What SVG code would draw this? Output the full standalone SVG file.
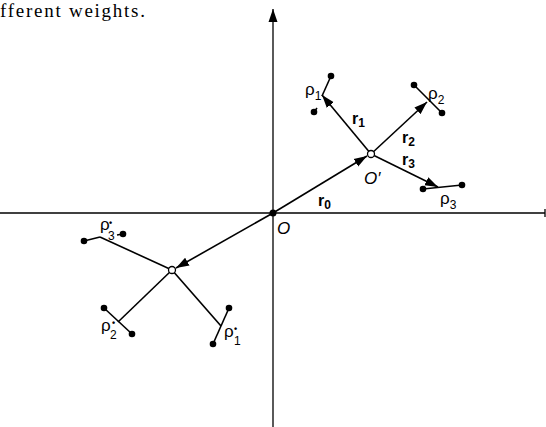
<svg xmlns="http://www.w3.org/2000/svg" width="546" height="427" viewBox="0 0 546 427">
<style>
.ln{stroke:#000;stroke-width:1.6;fill:none}
.ax{stroke:#000;stroke-width:1.3;fill:none}
.dot{fill:#000}
.oc{fill:#fff;stroke:#000;stroke-width:1.3}
.lab{font-family:"Liberation Sans",Arial,sans-serif;fill:#000}
.it{font-style:italic;font-size:17px}
.b{font-weight:bold;font-size:16px}
.rho{font-size:17px}
.sub{font-size:12px}
.sup{font-size:9px;font-weight:bold}
</style>
<defs>
<marker id="ah" markerUnits="userSpaceOnUse" markerWidth="14" markerHeight="10" refX="13" refY="5" orient="auto">
<path d="M0,0.5 L13,5 L0,9.5 Z" fill="#000"/>
</marker>
</defs>
<text x="0" y="17" font-family="'Liberation Serif','Times New Roman',serif" font-size="19" textLength="145" lengthAdjust="spacing">fferent weights.</text>
<g id="axes">
<line class="ax" x1="0" y1="213" x2="545" y2="213"/>
<line class="ax" x1="545" y1="209" x2="545" y2="217"/>
<line class="ax" x1="273" y1="427" x2="273" y2="9" marker-end="url(#ah)"/>
</g>
<g id="connectors">
<line class="ln" x1="273" y1="213" x2="367" y2="156" marker-end="url(#ah)"/>
<line class="ln" x1="371" y1="154" x2="322" y2="95" marker-end="url(#ah)"/>
<line class="ln" x1="371" y1="154" x2="427" y2="102" marker-end="url(#ah)"/>
<line class="ln" x1="371" y1="154" x2="438" y2="187" marker-end="url(#ah)"/>
<line class="ln" x1="273" y1="213" x2="176" y2="268" marker-end="url(#ah)"/>
<line class="ln" x1="172" y1="270" x2="100" y2="237"/>
<line class="ln" x1="172" y1="270" x2="118" y2="322"/>
<line class="ln" x1="172" y1="270" x2="221" y2="326"/>
</g>
<g id="rho1">
<line class="ln" x1="331" y1="76" x2="322" y2="96"/>
<line class="ln" x1="317" y1="108" x2="314" y2="112"/>
<circle class="dot" cx="331" cy="76" r="3.3"/>
<circle class="dot" cx="314" cy="112" r="3.3"/>
<text class="lab rho" x="305" y="95">ρ<tspan class="sub" dy="5">1</tspan></text>
</g>
<g id="rho2">
<line class="ln" x1="414" y1="85" x2="442" y2="113"/>
<circle class="dot" cx="414" cy="85" r="3.3"/>
<circle class="dot" cx="442" cy="113" r="3.3"/>
<text class="lab rho" x="428" y="99">ρ<tspan class="sub" dy="5">2</tspan></text>
</g>
<g id="rho3">
<line class="ln" x1="423" y1="189" x2="462" y2="185"/>
<circle class="dot" cx="423" cy="189" r="3.3"/>
<circle class="dot" cx="462" cy="185" r="3.3"/>
<text class="lab rho" x="440" y="204">ρ<tspan class="sub" dy="5">3</tspan></text>
</g>
<g id="rho3s">
<line class="ln" x1="84" y1="241" x2="100" y2="237"/>
<line class="ln" x1="117" y1="235" x2="123" y2="234"/>
<circle class="dot" cx="84" cy="241" r="3.3"/>
<circle class="dot" cx="123" cy="234" r="3.3"/>
<text class="lab rho" x="100" y="230">ρ</text>
<text class="lab sup" x="109" y="226">•</text>
<text class="lab sub" x="108" y="240">3</text>
</g>
<g id="rho2s">
<line class="ln" x1="104" y1="308" x2="132" y2="334"/>
<circle class="dot" cx="104" cy="308" r="3.3"/>
<circle class="dot" cx="132" cy="334" r="3.3"/>
<text class="lab rho" x="101" y="331">ρ</text>
<text class="lab sup" x="112" y="326">•</text>
<text class="lab sub" x="110" y="339">2</text>
</g>
<g id="rho1s">
<line class="ln" x1="229" y1="308" x2="213" y2="344"/>
<circle class="dot" cx="229" cy="308" r="3.3"/>
<circle class="dot" cx="213" cy="344" r="3.3"/>
<text class="lab rho" x="224" y="337">ρ</text>
<text class="lab sup" x="234" y="332">•</text>
<text class="lab sub" x="234" y="345">1</text>
</g>
<g id="O">
<circle class="dot" cx="273" cy="213" r="3.5"/>
<text class="lab it" x="277" y="234">O</text>
</g>
<g id="Oprime">
<circle class="oc" cx="371" cy="154" r="3.5"/>
<text class="lab it" x="364" y="184">O′</text>
</g>
<g id="P">
<circle class="oc" cx="172" cy="270" r="3.5"/>
</g>
<g id="labels">
<text class="lab b" x="318" y="206">r<tspan class="sub" dy="3">0</tspan></text>
<text class="lab b" x="352" y="124">r<tspan class="sub" dy="3">1</tspan></text>
<text class="lab b" x="402" y="143">r<tspan class="sub" dy="3">2</tspan></text>
<text class="lab b" x="402" y="165">r<tspan class="sub" dy="3">3</tspan></text>
</g>
</svg>
